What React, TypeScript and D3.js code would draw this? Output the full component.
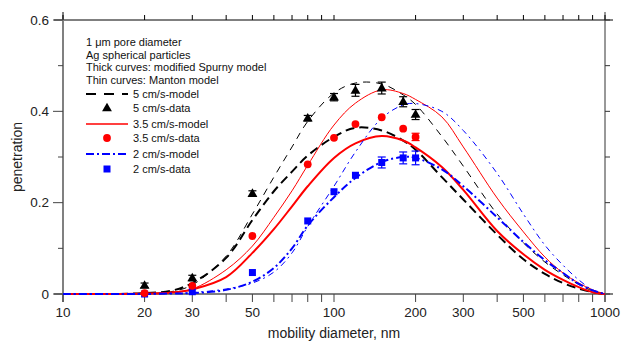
import React from 'react';
import * as d3 from 'd3';

// model curves are sampled at these diameters (nm)
const modelDiam = [10, 15, 20, 25, 30, 40, 50, 60, 70, 80, 100, 120, 150, 180, 200, 250, 300, 400, 500, 600, 700, 800, 900, 1000];

const spurny5 = [0, 0, 0.002, 0.007, 0.024, 0.079, 0.162, 0.225, 0.268, 0.303, 0.344, 0.364, 0.358, 0.336, 0.316, 0.256, 0.207, 0.13, 0.076, 0.044, 0.024, 0.012, 0.004, 0];
const manton5 = [0, 0, 0.001, 0.005, 0.02, 0.083, 0.175, 0.256, 0.322, 0.378, 0.44, 0.462, 0.46, 0.436, 0.415, 0.345, 0.28, 0.175, 0.112, 0.07, 0.042, 0.021, 0.007, 0];
const spurny35 = [0, 0, 0.001, 0.003, 0.01, 0.037, 0.09, 0.142, 0.192, 0.236, 0.298, 0.33, 0.346, 0.336, 0.321, 0.278, 0.228, 0.138, 0.087, 0.053, 0.031, 0.015, 0.004, 0];
const manton35 = [0, 0, 0.001, 0.004, 0.011, 0.053, 0.105, 0.168, 0.226, 0.282, 0.37, 0.418, 0.447, 0.439, 0.426, 0.388, 0.322, 0.21, 0.136, 0.081, 0.046, 0.024, 0.009, 0];
const spurny2 = [0, 0, 0, 0.001, 0.002, 0.009, 0.027, 0.057, 0.1, 0.15, 0.212, 0.254, 0.289, 0.3, 0.298, 0.273, 0.236, 0.168, 0.114, 0.074, 0.046, 0.022, 0.008, 0];
const manton2 = [0, 0, 0, 0.001, 0.003, 0.011, 0.024, 0.048, 0.09, 0.148, 0.236, 0.311, 0.385, 0.414, 0.417, 0.4, 0.358, 0.264, 0.175, 0.107, 0.063, 0.031, 0.009, 0];

// measured points
const dataDiam = [20, 30, 50, 80, 100, 120, 150, 180, 200];
const data5 = [0.019, 0.035, 0.22, 0.385, 0.431, 0.446, 0.451, 0.421, 0.393];
const err5 = [0.005, 0.006, 0.006, 0.006, 0.008, 0.013, 0.013, 0.011, 0.011];
const data35 = [0.002, 0.018, 0.127, 0.284, 0.342, 0.372, 0.387, 0.362, 0.344];
const err35 = [0, 0, 0, 0, 0, 0, 0, 0, 0.008];
const data2 = [0, 0.005, 0.047, 0.16, 0.224, 0.26, 0.288, 0.298, 0.298];
const err2 = [0, 0, 0, 0, 0, 0, 0.012, 0.013, 0.015];

const xLabelTicks = [10, 20, 30, 50, 100, 200, 300, 500, 1000];
const xMinorTicks = [40, 60, 70, 80, 90, 400, 600, 700, 800, 900];
const yMajorTicks = [0, 0.2, 0.4, 0.6];
const yMinorTicks = [0.1, 0.3, 0.5];
const yRightTicks = [0, 0.1, 0.2, 0.3, 0.4, 0.5, 0.6];

const noteLines = ['1 \u03bcm pore diameter', 'Ag spherical particles', 'Thick curves: modified Spurny model', 'Thin curves: Manton model'];

const W = 621;
const H = 343;
const margin = { top: 20, right: 16, bottom: 49, left: 63 };
const FONT = '"Liberation Sans", Arial, Helvetica, sans-serif';

const App: React.FC = () => {
  const x = d3.scaleLog().domain([10, 1000]).range([margin.left, W - margin.right]);
  const y = d3.scaleLinear().domain([0, 0.6]).range([H - margin.bottom, margin.top]);
  const x0 = x.range()[0], x1 = x.range()[1];
  const y0 = y.range()[0], y1 = y.range()[1];

  const line = d3.line<number>()
    .x((_, i) => x(modelDiam[i]))
    .y(v => y(v))
    .curve(d3.curveCatmullRom.alpha(0.5));

  const curves = [
    { vals: spurny5, color: '#000', w: 2, dash: '9,5' },
    { vals: manton5, color: '#000', w: 1, dash: '7,6' },
    { vals: spurny35, color: '#ff0000', w: 2, dash: undefined },
    { vals: manton35, color: '#ff0000', w: 1, dash: undefined },
    { vals: spurny2, color: '#0000ff', w: 2, dash: '8,3,2,3' },
    { vals: manton2, color: '#0000ff', w: 1, dash: '6,4,2,4' },
  ];

  const tri = d3.symbol(d3.symbolTriangle, 42)() as string;

  const marker = (kind: string, cx: number, cy: number, key: string) => {
    if (kind === 'tri') return <path key={key} d={tri} transform={`translate(${cx},${cy + 0.5})`} fill="#000" />;
    if (kind === 'circle') return <circle key={key} cx={cx} cy={cy} r={3.9} fill="#ff0000" />;
    return <rect key={key} x={cx - 3.5} y={cy - 3.5} width={7} height={7} fill="#0000ff" />;
  };

  const series = [
    { vals: data2, err: err2, kind: 'square', color: '#0000ff' },
    { vals: data35, err: err35, kind: 'circle', color: '#ff0000' },
    { vals: data5, err: err5, kind: 'tri', color: '#000' },
  ];

  const legendItems = [
    { label: '5 cm/s-model', type: 'line', color: '#000', w: 2, dash: '10,8' },
    { label: '5 cm/s-data', type: 'tri', color: '#000' },
    { label: '3.5 cm/s-model', type: 'line', color: '#ff0000', w: 1.5, dash: undefined },
    { label: '3.5 cm/s-data', type: 'circle', color: '#ff0000' },
    { label: '2 cm/s-model', type: 'line', color: '#0000ff', w: 2, dash: '8,3,2,3' },
    { label: '2 cm/s-data', type: 'square', color: '#0000ff' },
  ];
  const legendY = [94, 108, 124, 138, 154, 169];
  const noteY = [42, 55, 67, 80];

  return (
    <svg width={W} height={H} style={{ position: 'absolute', left: 0, top: 0, background: '#fff' }} fontFamily={FONT}>
      {/* frame: top and right black, left and bottom grey */}
      <line x1={x0 - 9} x2={x1 + 8} y1={y1} y2={y1} stroke="#000" strokeWidth={1} />
      <line x1={x1} x2={x1} y1={y1 - 8} y2={y0 + 8} stroke="#333" strokeWidth={1} />
      <line x1={x0} x2={x0} y1={y1 - 8} y2={y0 + 8} stroke="#808080" strokeWidth={2} />
      <line x1={x0 - 9} x2={x1 + 8} y1={y0} y2={y0} stroke="#808080" strokeWidth={2} />

      {/* x ticks */}
      {[...xLabelTicks, ...xMinorTicks].map(t => (
        <g key={`xt${t}`}>
          <line x1={x(t)} x2={x(t)} y1={y0} y2={y0 + 8} stroke="#444" strokeWidth={1} />
          <line x1={x(t)} x2={x(t)} y1={y1} y2={y1 - 5} stroke="#000" strokeWidth={1} />
        </g>
      ))}
      {xLabelTicks.map(t => (
        <text key={`xl${t}`} x={x(t)} y={y0 + 23} textAnchor="middle" fontSize={13.5} fill="#222">{t}</text>
      ))}

      {/* y ticks */}
      {yMajorTicks.map(t => (
        <g key={`yt${t}`}>
          <line x1={x0 - 10} x2={x0} y1={y(t)} y2={y(t)} stroke="#444" strokeWidth={1} />
          <text x={x0 - 14} y={y(t)} dy="0.35em" textAnchor="end" fontSize={13.5} fill="#222">{t === 0 ? '0' : t.toFixed(1)}</text>
        </g>
      ))}
      {yMinorTicks.map(t => (
        <line key={`ym${t}`} x1={x0 - 5} x2={x0} y1={y(t)} y2={y(t)} stroke="#444" strokeWidth={1} />
      ))}
      {yRightTicks.map(t => (
        <line key={`yr${t}`} x1={x1} x2={x1 + 5} y1={y(t)} y2={y(t)} stroke="#333" strokeWidth={1} />
      ))}

      {/* axis titles */}
      <text x={(x0 + x1) / 2} y={H - 5} textAnchor="middle" fontSize={14} fill="#222">mobility diameter, nm</text>
      <text transform={`translate(22,${(y0 + y1) / 2}) rotate(-90)`} textAnchor="middle" fontSize={14} fill="#222">penetration</text>

      {/* model curves */}
      {curves.map((c, i) => (
        <path key={`c${i}`} d={line(c.vals) || ''} fill="none" stroke={c.color} strokeWidth={c.w} strokeDasharray={c.dash} />
      ))}

      {/* data with error bars */}
      {series.map((s, si) => (
        <g key={`s${si}`}>
          {s.vals.map((v, i) => {
            const cx = x(dataDiam[i]);
            const e = s.err[i];
            return (
              <g key={i}>
                {e > 0 && (
                  <g stroke={s.color} strokeWidth={1.2}>
                    <line x1={cx} x2={cx} y1={y(v + e)} y2={y(v - e)} />
                    <line x1={cx - 4} x2={cx + 4} y1={y(v + e)} y2={y(v + e)} />
                    <line x1={cx - 4} x2={cx + 4} y1={y(v - e)} y2={y(v - e)} />
                  </g>
                )}
                {marker(s.kind, cx, y(v), `m${i}`)}
              </g>
            );
          })}
        </g>
      ))}

      {/* legend */}
      {noteLines.map((t, i) => (
        <text key={`n${i}`} x={86} y={noteY[i]} dy="0.35em" fontSize={11} fill="#111">{t}</text>
      ))}
      {legendItems.map((it, i) => (
        <g key={`l${i}`}>
          {it.type === 'line'
            ? <line x1={86} x2={128} y1={legendY[i]} y2={legendY[i]} stroke={it.color} strokeWidth={it.w} strokeDasharray={it.dash} />
            : marker(it.type, 107, legendY[i], `lm${i}`)}
          <text x={133} y={legendY[i]} dy="0.35em" fontSize={11} fill="#111">{it.label}</text>
        </g>
      ))}
    </svg>
  );
};

export default App;
